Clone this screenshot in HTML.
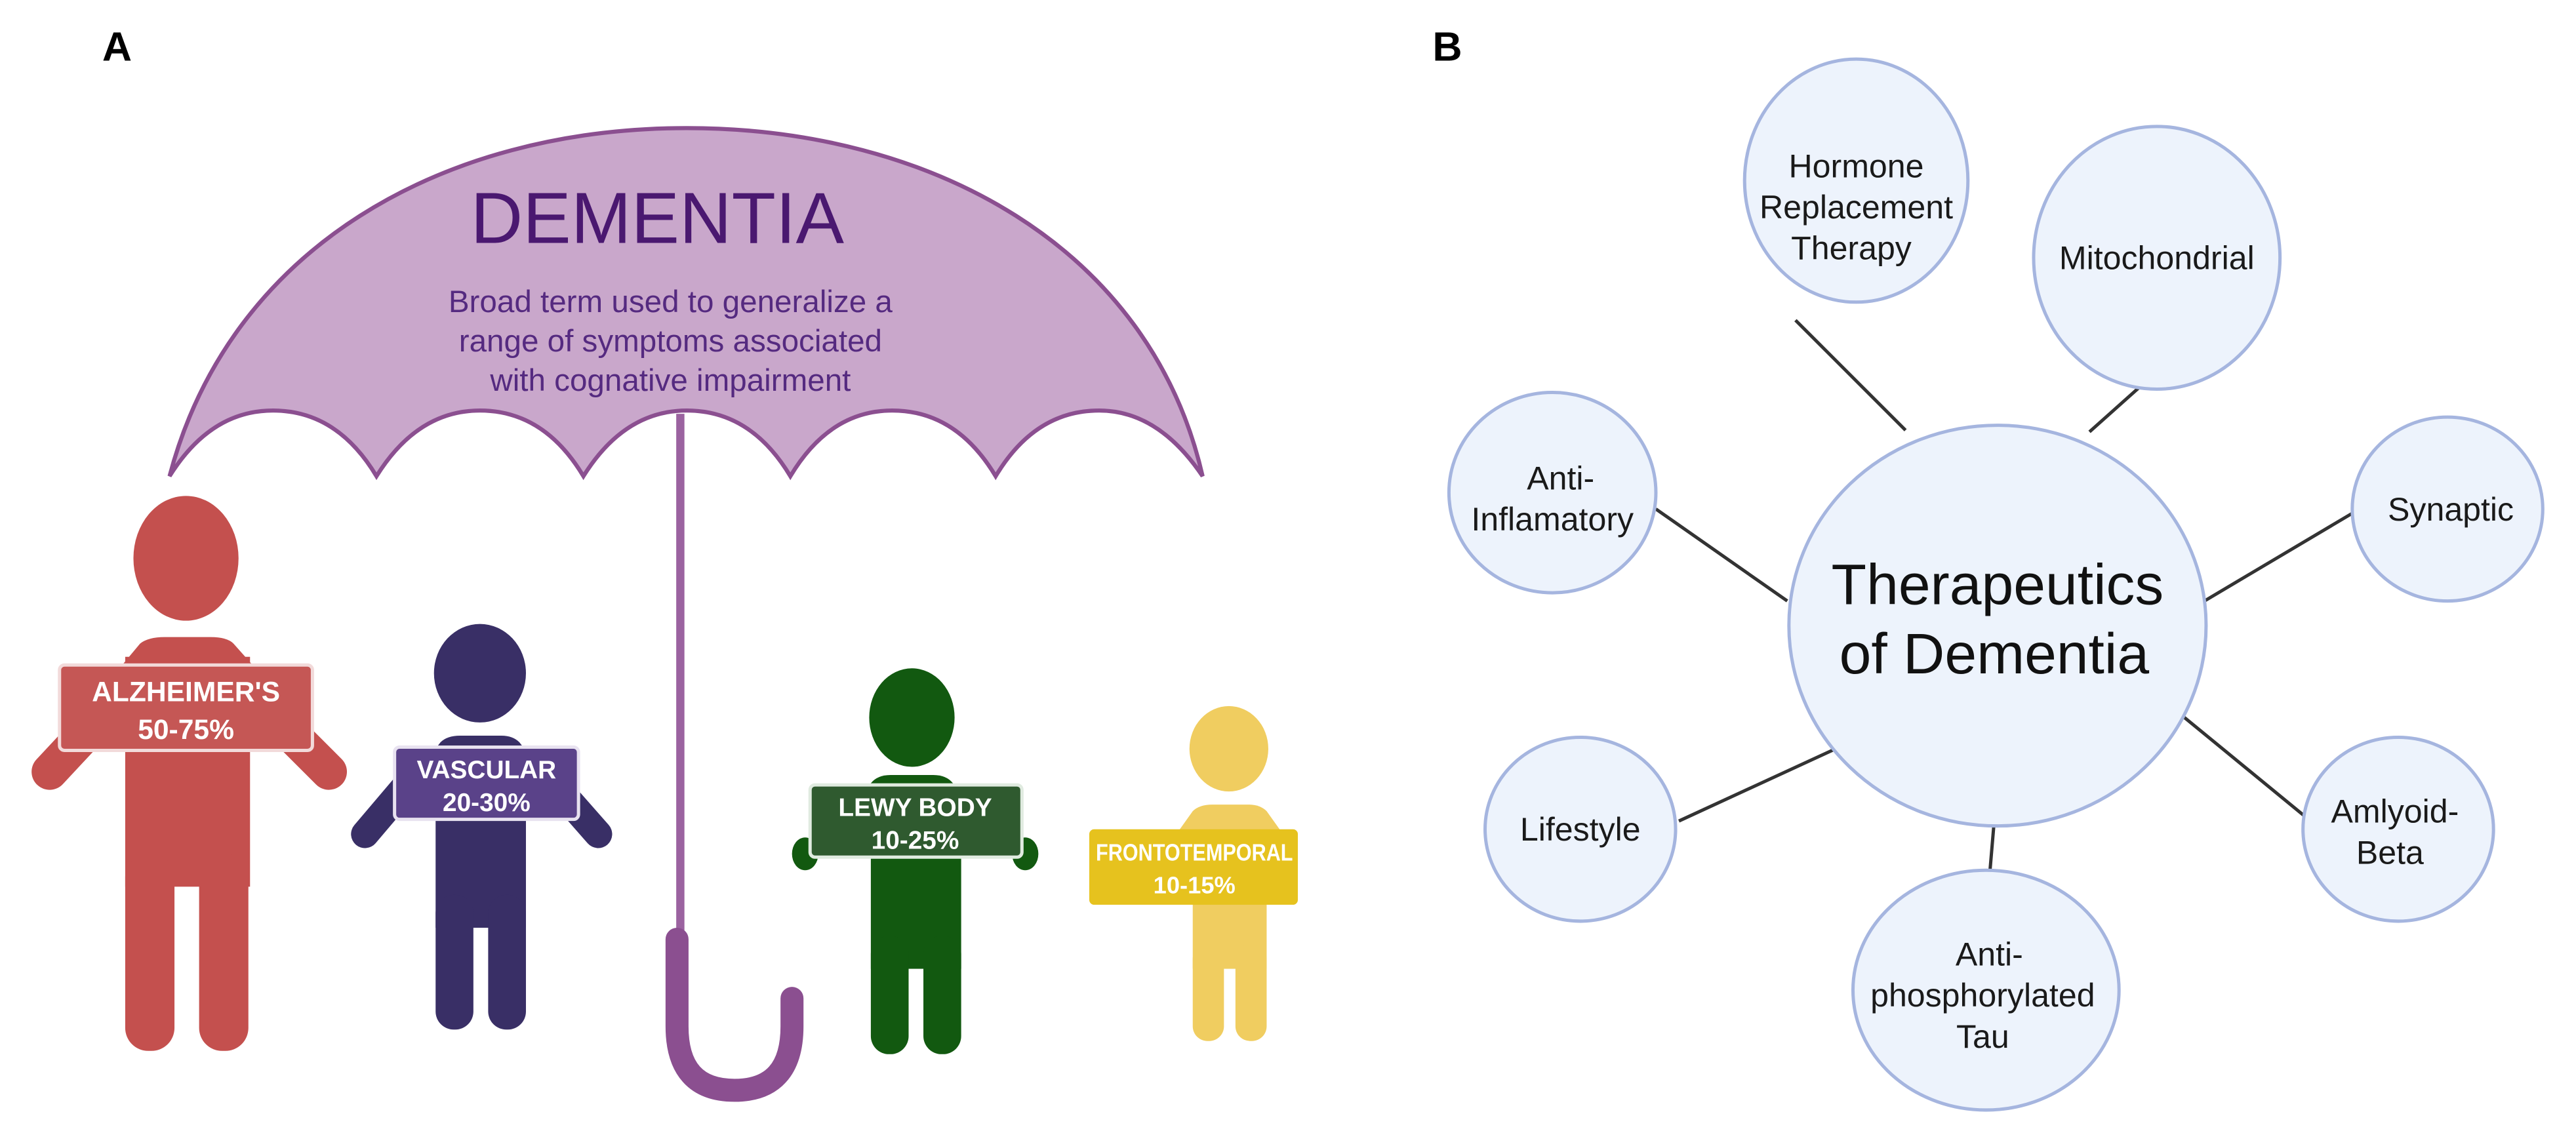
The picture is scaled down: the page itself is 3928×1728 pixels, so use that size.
<!DOCTYPE html>
<html><head><meta charset="utf-8"><style>
html,body{margin:0;padding:0;background:#fff;}
svg{display:block;}
text{font-family:"Liberation Sans",sans-serif;}
</style></head><body>
<svg width="3928" height="1728" viewBox="0 0 1568 690" xmlns="http://www.w3.org/2000/svg">
<rect width="1568" height="690" fill="#fff"/>
<text x="62" y="37" font-size="25" font-weight="bold" fill="#000">A</text>
<text x="872" y="37" font-size="25" font-weight="bold" fill="#000">B</text>

<!-- umbrella -->
<path d="M103,290 C140,150 270,78 418,78 C566,78 700,150 732,290
 Q705,250 669,250 Q630,250 606,290
 Q582,250 543,250 Q505,250 481,290
 Q457,250 418,250 Q380,250 355,290
 Q331,250 292,250 Q254,250 229,290
 Q205,250 166,250 Q128,250 103,290 Z" fill="#c9a7cb" stroke="#8b4f90" stroke-width="2.5"/>
<text x="400" y="148" font-size="44" fill="#4a1870" text-anchor="middle">DEMENTIA</text>
<g font-size="19" fill="#552a80" text-anchor="middle">
<text x="408" y="190">Broad term used to generalize a</text>
<text x="408" y="214">range of symptoms associated</text>
<text x="408" y="238">with cognative impairment</text>
</g>
<line x1="414" y1="252" x2="414" y2="575" stroke="#9b63a0" stroke-width="5"/>
<path d="M412,572 L412,625 Q412,664 447,664 Q482,664 482,625 L482,608" fill="none" stroke="#8b4f90" stroke-width="14" stroke-linecap="round"/>

<!-- Alzheimer -->
<g fill="#c4504e" stroke="#c4504e">
<ellipse cx="113" cy="340" rx="32" ry="38" stroke="none"/>
<path d="M70,410 L85,392 Q90,388 100,388 L128,388 Q138,388 142,392 L158,410 Z" stroke="none"/>
<rect x="76" y="400" width="76" height="140" stroke="none"/>
<rect x="76" y="520" width="30" height="120" rx="14" stroke="none"/>
<rect x="121" y="520" width="30" height="120" rx="14" stroke="none"/>
<line x1="72" y1="425" x2="30" y2="470" stroke-width="22" stroke-linecap="round"/>
<line x1="155" y1="425" x2="200" y2="470" stroke-width="22" stroke-linecap="round"/>
</g>
<rect x="36" y="405" width="154" height="52" rx="3" fill="#c55755" stroke="#f2dada" stroke-width="2"/>
<g font-size="17" font-weight="bold" fill="#fff" text-anchor="middle">
<text x="113" y="427">ALZHEIMER'S</text><text x="113" y="450">50-75%</text></g>

<!-- Vascular -->
<g fill="#392f66" stroke="#392f66">
<ellipse cx="292" cy="410" rx="28" ry="30" stroke="none"/>
<path d="M258,465 L268,452 Q272,448 280,448 L305,448 Q312,448 316,452 L326,465 Z" stroke="none"/>
<rect x="265" y="455" width="55" height="110" stroke="none"/>
<rect x="265" y="545" width="23" height="82" rx="11" stroke="none"/>
<rect x="297" y="545" width="23" height="82" rx="11" stroke="none"/>
<line x1="250" y1="475" x2="222" y2="508" stroke-width="17" stroke-linecap="round"/>
<line x1="335" y1="475" x2="364" y2="508" stroke-width="17" stroke-linecap="round"/>
</g>
<rect x="240" y="455" width="112" height="44" rx="3" fill="#5a4289" stroke="#e8e2f0" stroke-width="2"/>
<g font-size="15.5" font-weight="bold" fill="#fff" text-anchor="middle">
<text x="296" y="474">VASCULAR</text><text x="296" y="494">20-30%</text></g>

<!-- Lewy body -->
<g fill="#125910" stroke="#125910">
<ellipse cx="555" cy="437" rx="26" ry="30" stroke="none"/>
<path d="M522,490 L530,477 Q534,472 542,472 L568,472 Q576,472 580,477 L588,490 Z" stroke="none"/>
<rect x="530" y="480" width="55" height="110" stroke="none"/>
<rect x="530" y="570" width="23" height="72" rx="11" stroke="none"/>
<rect x="562" y="570" width="23" height="72" rx="11" stroke="none"/>
<ellipse cx="490" cy="520" rx="8" ry="10" stroke="none"/>
<ellipse cx="624" cy="520" rx="8" ry="10" stroke="none"/>
</g>
<rect x="493" y="478" width="129" height="44" rx="3" fill="#2f5a2f" stroke="#e0ebe0" stroke-width="2"/>
<g font-size="15.5" font-weight="bold" fill="#fff" text-anchor="middle">
<text x="557" y="497">LEWY BODY</text><text x="557" y="517">10-25%</text></g>

<!-- Frontotemporal -->
<g fill="#f0cd60" stroke="#f0cd60">
<ellipse cx="748" cy="456" rx="24" ry="26" stroke="none"/>
<path d="M716,508 L726,494 Q730,490 738,490 L760,490 Q767,490 771,494 L781,508 Z" stroke="none"/>
<rect x="726" y="500" width="45" height="90" stroke="none"/>
<rect x="726" y="575" width="19" height="59" rx="9" stroke="none"/>
<rect x="752" y="575" width="19" height="59" rx="9" stroke="none"/>
</g>
<rect x="663" y="505" width="127" height="46" rx="3" fill="#e6c21e"/>
<g font-size="14.5" font-weight="bold" fill="#fff" text-anchor="middle">
<text x="727" y="524" textLength="120" lengthAdjust="spacingAndGlyphs">FRONTOTEMPORAL</text><text x="727" y="544">10-15%</text></g>

<!-- Panel B -->
<g stroke="#333" stroke-width="2">
<line x1="1093" y1="195" x2="1160" y2="262"/>
<line x1="1328" y1="213" x2="1272" y2="263"/>
<line x1="1008" y1="310" x2="1088" y2="366"/>
<line x1="1433" y1="312" x2="1342" y2="366"/>
<line x1="1022" y1="500" x2="1124" y2="453"/>
<line x1="1403" y1="497" x2="1325" y2="433"/>
<line x1="1214" y1="500" x2="1210" y2="547"/>
</g>
<g fill="#edf3fc" stroke="#a5b5df" stroke-width="2">
<ellipse cx="1130" cy="110" rx="68" ry="74"/>
<ellipse cx="1313" cy="157" rx="75" ry="80"/>
<ellipse cx="945" cy="300" rx="63" ry="61"/>
<ellipse cx="1490" cy="310" rx="58" ry="56"/>
<ellipse cx="962" cy="505" rx="58" ry="56"/>
<ellipse cx="1460" cy="505" rx="58" ry="56"/>
<ellipse cx="1209" cy="603" rx="81" ry="73"/>
<ellipse cx="1216" cy="381" rx="127" ry="122"/>
</g>
<g fill="#1a1a1a" font-size="20" text-anchor="middle">
<text x="1130" y="108">Hormone</text>
<text x="1130" y="133">Replacement</text>
<text x="1127" y="158">Therapy</text>
<text x="1313" y="164">Mitochondrial</text>
<text x="950" y="298">Anti-</text>
<text x="945" y="323">Inflamatory</text>
<text x="1492" y="317">Synaptic</text>
<text x="962" y="512">Lifestyle</text>
<text x="1458" y="501">Amlyoid-</text>
<text x="1455" y="526">Beta</text>
<text x="1211" y="588">Anti-</text>
<text x="1207" y="613">phosphorylated</text>
<text x="1207" y="638">Tau</text>
</g>
<g fill="#111" font-size="35" text-anchor="middle">
<text x="1216" y="368">Therapeutics</text>
<text x="1214" y="410">of Dementia</text>
</g>
</svg>
</body></html>
